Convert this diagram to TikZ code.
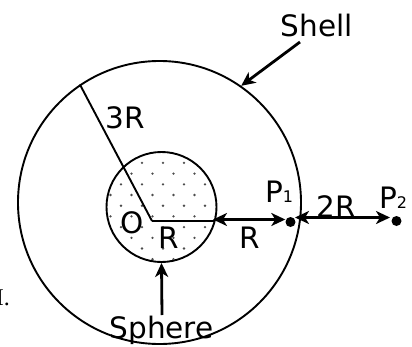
\documentclass[tikz,border=0pt]{standalone}
\usepackage{fontspec}
\setmainfont{DejaVu Sans}
\newfontfamily\serifI{Liberation Serif}
\usetikzlibrary{arrows.meta}
\begin{document}
\begin{tikzpicture}[x=1bp,y=-1bp,
  lbl/.style={font=\fontsize{29.5bp}{34bp}\selectfont, inner sep=0pt},
  ring/.style={circle, draw, line width=1.9bp, inner sep=0pt},
  radius line/.style={line width=1.9bp},
  arr/.style={line width=2.8bp, -{Stealth[length=14bp,width=13bp,inset=4bp]}},
  darr/.style={line width=2.8bp, {Stealth[length=14bp,width=13bp,inset=4bp]}-{Stealth[length=14bp,width=13bp,inset=4bp]}},
  pdot/.style={circle, fill, inner sep=0pt, minimum size=10bp},
  speck/.style={fill=black!70}
]
\useasboundingbox (0,0) rectangle (412,347);
% dotted filling of the sphere
\begin{scope}
  \clip (161.5,207) circle (54bp);
  \foreach \k in {0,...,10}{
    \foreach \m in {-1,...,5}{
      \fill[speck] ({121+10.5*mod(\k+1,2)+21*\m},{152.2+10.7*\k}) circle (1.3bp);
    }
  }
\end{scope}
% circles
\node[ring, minimum size=283bp] (shell) at (159.5,202.5) {};
\node[ring, minimum size=110bp] (sphere) at (161.5,207) {};
% radii
\coordinate (O) at (152,221);
\coordinate (Redge) at (214.7,221);
\draw[radius line] (O) -- (shell.124);
\draw[radius line] (O) -- (Redge);
% points
\node[pdot] (p1) at (290.5,222) {};
\node[pdot] (p2) at (396.5,221) {};
% arrows between points
\coordinate (rL) at (213,219.5);
\coordinate (tL) at (295,217.5);
\draw[darr] (rL) -- (rL -| p1.west);
\draw[darr] (tL) -- (390,217.5);
% labels
\node[lbl, anchor=base] (shellL) at (316.7,36) {Shell};
\node[lbl, anchor=base] (sphereL) at (161.5,338) {Sphere};
\node[lbl, anchor=base] (threeR) at (125,128) {3R};
\node[lbl, anchor=base] (oL) at (132,233) {O};
\node[lbl, anchor=base] (rin) at (168.5,248) {R};
\node[lbl, anchor=base] (rout) at (250,248) {R};
\node[lbl, anchor=base] (twoR) at (336.5,217) {2R};
\node[lbl, anchor=base west] (p1L) at (265,202) {P{\fontsize{16bp}{16bp}\selectfont 1}};
\node[lbl, anchor=base west] (p2L) at (379,208) {P{\fontsize{16bp}{16bp}\selectfont 2}};
\node[font=\serifI\fontsize{24bp}{26bp}\selectfont, anchor=base east, inner sep=0pt] (stray) at (10,305) {I.};
% pointer arrows
\draw[arr] (300,42) -- (shell.55);
\draw[arr] (162,315) -- (sphere.south);
\end{tikzpicture}
\end{document}
